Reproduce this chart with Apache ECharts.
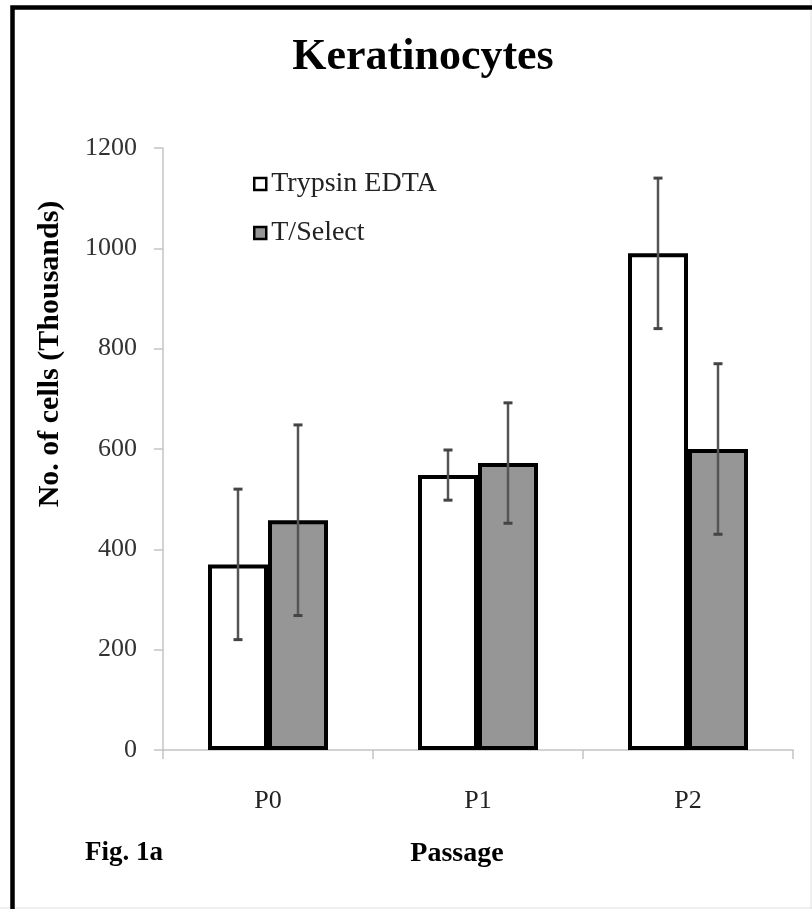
<!DOCTYPE html>
<html>
<head>
<meta charset="utf-8">
<script src="https://cdn.jsdelivr.net/npm/echarts@6/dist/echarts.min.js"></script>
<style>
  html, body { margin: 0; padding: 0; background: #fff; }
  #chart { width: 812px; height: 909px; }
</style>
</head>
<body>
<div id="chart"></div>
<script>
// ---- data ----
var categories = ['P0', 'P1', 'P2'];
var seriesNames = ['Trypsin EDTA', 'T/Select'];
var trypsinValues = [370, 548, 990];
var trypsinErrors = [150, 50, 150];
var tselectValues = [458, 572, 600];
var tselectErrors = [190, 120, 170];
var yMin = 0, yMax = 1200, yStep = 200;

// ---- style constants ----
var BAR_W = 60;
var SERIF = '"Liberation Serif", "Times New Roman", serif';

function errData(vals, errs) {
  return vals.map(function (v, i) { return [i, v, errs[i]]; });
}

function errRenderer(offset) {
  return function (params, api) {
    var i = api.value(0), v = api.value(1), e = api.value(2);
    var hi = api.coord([i, v + e]);
    var lo = api.coord([i, v - e]);
    var x = hi[0] + offset;
    var cap = 4.5;
    var st = { stroke: '#555', lineWidth: 2.5 };
    return {
      type: 'group',
      children: [
        { type: 'line', shape: { x1: x, y1: hi[1], x2: x, y2: lo[1] }, style: st },
        { type: 'line', shape: { x1: x - cap, y1: hi[1], x2: x + cap, y2: hi[1] }, style: { stroke: '#444', lineWidth: 3 } },
        { type: 'line', shape: { x1: x - cap, y1: lo[1], x2: x + cap, y2: lo[1] }, style: { stroke: '#444', lineWidth: 3 } }
      ]
    };
  };
}

var chart = echarts.init(document.getElementById('chart'), null, { renderer: 'canvas' });

var option = {
  backgroundColor: '#fff',
  animation: false,
  textStyle: { fontFamily: SERIF },
  title: {
    text: 'Keratinocytes',
    left: 418,
    textAlign: 'center',
    top: 31,
    textStyle: { fontFamily: SERIF, fontWeight: 'bold', fontSize: 44, color: '#000' }
  },
  legend: {
    orient: 'vertical',
    left: 248,
    top: 165,
    itemGap: 21,
    itemWidth: 12,
    itemHeight: 12,
    icon: 'rect',
    textStyle: { fontFamily: SERIF, fontSize: 28, color: '#222', lineHeight: 28 },
    data: [
      { name: seriesNames[0], itemStyle: { color: '#fff', borderColor: '#000', borderWidth: 2.5 } },
      { name: seriesNames[1], itemStyle: { color: '#969696', borderColor: '#000', borderWidth: 2.5 } }
    ]
  },
  grid: { left: 163, right: 19, top: 148, bottom: 159, containLabel: false },
  xAxis: {
    type: 'category',
    data: categories,
    name: 'Passage',
    nameLocation: 'middle',
    nameGap: 90,
    nameTextStyle: { fontFamily: SERIF, fontWeight: 'bold', fontSize: 28, color: '#000', padding: [0, 42, 0, 0] },
    axisLine: { lineStyle: { color: '#c4c4c4', width: 1.5 } },
    axisTick: { show: true, alignWithLabel: false, length: 9, lineStyle: { color: '#c4c4c4', width: 1.5 } },
    axisLabel: { fontFamily: SERIF, fontSize: 26, color: '#222', margin: 38 }
  },
  yAxis: {
    type: 'value',
    min: yMin,
    max: yMax,
    interval: yStep,
    name: 'No. of cells (Thousands)',
    nameLocation: 'middle',
    nameGap: 98,
    nameTextStyle: { fontFamily: SERIF, fontWeight: 'bold', fontSize: 30, color: '#000', padding: [0, 0, 0, 190] },
    axisLine: { show: true, lineStyle: { color: '#c4c4c4', width: 1.5 } },
    axisTick: { show: true, length: 9, lineStyle: { color: '#c4c4c4', width: 1.5 } },
    axisLabel: { fontFamily: SERIF, fontSize: 26, color: '#333', margin: 26, formatter: function (v) { return String(v); } },
    splitLine: { show: false }
  },
  graphic: [
    { type: 'rect', shape: { x: 12.5, y: 7.5, width: 1000, height: 1000 }, style: { fill: 'none', stroke: '#000', lineWidth: 4.5 }, z: 100 },
    { type: 'line', shape: { x1: 811, y1: 0, x2: 811, y2: 909 }, style: { stroke: '#e0e0e0', lineWidth: 1 } },
    { type: 'line', shape: { x1: 0, y1: 908, x2: 812, y2: 908 }, style: { stroke: '#e0e0e0', lineWidth: 1 } },
    { type: 'text', left: 85, top: 840, style: { text: 'Fig. 1a', font: 'bold 27px ' + SERIF, fill: '#000' } }
  ],
  series: [
    {
      name: seriesNames[0], type: 'bar', data: trypsinValues, barWidth: BAR_W, barGap: '0%',
      itemStyle: { color: '#fff', borderColor: '#000', borderWidth: 4 }, z: 2
    },
    {
      name: seriesNames[1], type: 'bar', data: tselectValues, barWidth: BAR_W, barGap: '0%',
      itemStyle: { color: '#969696', borderColor: '#000', borderWidth: 4 }, z: 2
    },
    {
      name: seriesNames[0] + ' error', type: 'custom', data: errData(trypsinValues, trypsinErrors),
      renderItem: errRenderer(-BAR_W / 2), z: 5, silent: true
    },
    {
      name: seriesNames[1] + ' error', type: 'custom', data: errData(tselectValues, tselectErrors),
      renderItem: errRenderer(BAR_W / 2), z: 5, silent: true
    }
  ]
};
chart.setOption(option);
</script>
</body>
</html>
